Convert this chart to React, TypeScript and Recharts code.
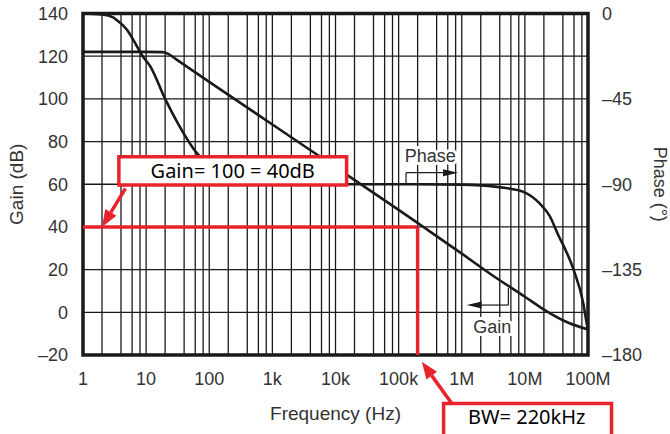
import React from 'react';
import {
  ComposedChart,
  Line,
  XAxis,
  YAxis,
  ReferenceLine,
  ReferenceArea,
  ReferenceDot,
} from 'recharts';

// axis ticks
const freqTicks = [1, 10, 100, 1e3, 1e4, 1e5, 1e6, 1e7, 1e8];
const freqTickLabels = ['1', '10', '100', '1k', '10k', '100k', '1M', '10M', '100M'];
const gainTicks = [-20, 0, 20, 40, 60, 80, 100, 120, 140];
const phaseTicks = [-180, -135, -90, -45, 0];

// minor vertical grid: 1,2,4,6,8 per decade
const gridMantissa = [1, 2, 4, 6, 8];
const gridDecades = [1, 10, 100, 1e3, 1e4, 1e5, 1e6, 1e7];

// open-loop gain (dB)
const gainFreq = [1, 10, 18, 22, 30, 100, 1e3, 1e4, 1e5, 2.2e5, 1e6, 3e6, 1e7, 2e7, 5e7, 1e8];
const gainDb = [122, 122, 121.9, 121.2, 118.5, 108, 88, 68, 48, 41, 27.5, 17.5, 7.3, 1.3, -5, -8];

// phase (deg)
const phaseFreq = [1, 2, 3, 3.4, 5, 6.3, 8.6, 11.7, 20, 32, 64, 100, 200, 500, 1e3, 1e5, 1e6, 2e6, 5e6, 9.5e6, 1.7e7, 2.5e7, 3.2e7, 5.9e7, 8.4e7, 9.5e7, 1e8];
const phaseDeg = [0, -0.5, -2, -3.4, -8.7, -14, -22, -28, -45, -58, -73.7, -80, -86, -89, -90, -90, -90.2, -90.6, -92, -94, -100, -107, -115, -135, -152.6, -163, -167];

const gainData = gainFreq.map((f, i) => ({ f, v: gainDb[i] }));
const phaseData = phaseFreq.map((f, i) => ({ f, v: phaseDeg[i] }));
const gridFreqs = gridDecades.flatMap((d) => gridMantissa.map((m) => m * d));

const RED = '#e8232b';
const INK = '#1a1a1a';
const TXT = '#333';
const FONT = '"Liberation Sans", Arial, sans-serif';
const NOTE_FONT = '"Noto Sans", sans-serif';
const BW_MARK = 2e5;
const W = 670;
const H = 434;
const MARGIN = { top: 13.5, right: 0, bottom: 0, left: 0 };

const fmtFreq = (v: number) => freqTickLabels[Math.round(Math.log10(v))];
const fmtSigned = (v: number) => (v < 0 ? '\u2013' + Math.abs(v) : String(v));

const arrow = (color: string, width: number, len: number, half: number) => (p: any) => {
  const { x1, y1, x2, y2 } = p;
  const a = Math.atan2(y2 - y1, x2 - x1);
  const bx = x2 - len * Math.cos(a);
  const by = y2 - len * Math.sin(a);
  const nx = -Math.sin(a) * half;
  const ny = Math.cos(a) * half;
  return (
    <g>
      <line x1={x1} y1={y1} x2={bx} y2={by} stroke={color} strokeWidth={width} />
      <polygon points={`${x2},${y2} ${bx + nx},${by + ny} ${bx - nx},${by - ny}`} fill={color} />
    </g>
  );
};

const haloText = (value: string) => (p: any) => {
  const vb = p.viewBox;
  return (
    <text
      x={vb.x + vb.width / 2}
      y={vb.y + vb.height / 2}
      textAnchor="middle"
      dominantBaseline="central"
      fontFamily={FONT}
      fontSize={18}
      fill={TXT}
      stroke="#fff"
      strokeWidth={6}
      paintOrder="stroke"
    >
      {value}
    </text>
  );
};

const tickStyle = { fill: TXT, fontSize: 18, fontFamily: FONT };

const sideTitle = (value: string, x: number, angle: number, size: number) => (p: any) => {
  const cy = p.viewBox.y + p.viewBox.height / 2;
  return (
    <text
      x={x}
      y={cy}
      transform={`rotate(${angle} ${x} ${cy})`}
      textAnchor="middle"
      dominantBaseline="central"
      fontFamily={FONT}
      fontSize={size}
      fill={TXT}
    >
      {value}
    </text>
  );
};

// same axes for the base chart and the annotation overlay
const axes = (show: boolean) => [
  <XAxis
    key="x"
    dataKey="f"
    type="number"
    scale="log"
    domain={[1, 1e8]}
    allowDataOverflow
    ticks={freqTicks}
    interval={0}
    tickFormatter={fmtFreq}
    height={79}
    tickSize={0}
    tickMargin={17}
    axisLine={false}
    tick={show ? tickStyle : false}
    label={show ? { value: 'Frequency (Hz)', position: 'insideBottom', offset: 14, fill: TXT, fontSize: 19, fontFamily: FONT } : undefined}
  />,
  <YAxis
    key="yl"
    yAxisId="left"
    domain={[-20, 140]}
    ticks={gainTicks}
    interval={0}
    allowDataOverflow
    tickFormatter={fmtSigned}
    width={83}
    tickSize={0}
    tickMargin={15}
    axisLine={false}
    tick={show ? tickStyle : false}
    label={show ? { content: sideTitle('Gain (dB)', 16, -90, 19) } : undefined}
  />,
  <YAxis
    key="yr"
    yAxisId="right"
    orientation="right"
    domain={[-180, 0]}
    ticks={phaseTicks}
    interval={0}
    allowDataOverflow
    tickFormatter={fmtSigned}
    width={82}
    tickSize={0}
    tickMargin={14}
    axisLine={false}
    tick={show ? tickStyle : false}
    label={show ? { content: sideTitle('Phase (°)', 660, 90, 18) } : undefined}
  />,
];

export default function App() {
  return (
    <div style={{ position: 'absolute', left: 0, top: 0, width: W, height: H, background: '#fff' }}>
      <div style={{ position: 'absolute', left: 0, top: 0 }}>
        <ComposedChart width={W} height={H} margin={MARGIN}>
          {axes(true)}
          {gridFreqs.map((f) => (
            <ReferenceLine key={'v' + f} yAxisId="left" x={f} stroke={INK} strokeWidth={1.3} />
          ))}
          {gainTicks.map((g) => (
            <ReferenceLine key={'h' + g} yAxisId="left" y={g} stroke={INK} strokeWidth={1.3} />
          ))}
          <ReferenceArea yAxisId="left" x1={1} x2={1e8} y1={-20} y2={140} fill="none" stroke={INK} strokeWidth={3.5} />
          <Line yAxisId="left" data={gainData} dataKey="v" type="monotone" stroke={INK} strokeWidth={2.6} dot={false} isAnimationActive={false} />
          <Line yAxisId="right" data={phaseData} dataKey="v" type="monotone" stroke={INK} strokeWidth={2.6} dot={false} isAnimationActive={false} />
        </ComposedChart>
      </div>

      {/* annotation overlay, same axes */}
      <div style={{ position: 'absolute', left: 0, top: 0 }}>
        <ComposedChart width={W} height={H} margin={MARGIN}>
          {axes(false)}
          {/* curve callouts */}
          <ReferenceDot yAxisId="left" x={3.18e5} y={73.2} r={0} fill="none" stroke="none" label={{ content: haloText('Phase') }} />
          <ReferenceLine yAxisId="left" segment={[{ x: 1.31e5, y: 60.6 }, { x: 1.31e5, y: 65.4 }]} stroke={INK} strokeWidth={1.2} />
          <ReferenceLine yAxisId="left" segment={[{ x: 1.31e5, y: 65.4 }, { x: 8.75e5, y: 65.4 }]} shape={arrow(INK, 1.2, 15, 3.5)} />
          <ReferenceDot yAxisId="left" x={3.03e6} y={-6.9} r={0} fill="none" stroke="none" label={{ content: haloText('Gain') }} />
          <ReferenceLine yAxisId="left" segment={[{ x: 5.48e6, y: 11.4 }, { x: 5.48e6, y: 3.4 }]} stroke={INK} strokeWidth={1.2} />
          <ReferenceLine yAxisId="left" segment={[{ x: 5.48e6, y: 3.4 }, { x: 1.2e6, y: 3.4 }]} shape={arrow(INK, 1.2, 15, 3.5)} />

          {/* red annotations */}
          <ReferenceLine yAxisId="left" segment={[{ x: 1, y: 40 }, { x: BW_MARK, y: 40 }]} stroke={RED} strokeWidth={3.5} />
          <ReferenceLine yAxisId="left" segment={[{ x: BW_MARK, y: 40 }, { x: BW_MARK, y: -20 }]} stroke={RED} strokeWidth={3.5} />
          <ReferenceArea
            yAxisId="left"
            x1={3.7}
            x2={15000}
            y1={59.6}
            y2={72.9}
            fill="#fff"
            fillOpacity={1}
            stroke={RED}
            strokeWidth={3.5}
            label={{ value: 'Gain= 100 = 40dB', position: 'center', fill: '#000', fontSize: 20, fontFamily: NOTE_FONT }}
          />
          <ReferenceLine yAxisId="left" segment={[{ x: 4.7, y: 58 }, { x: 2, y: 40 }]} ifOverflow="visible" shape={arrow(RED, 3.5, 17, 6.5)} />
          <ReferenceArea
            yAxisId="left"
            x1={5.16e5}
            x2={2.36e8}
            y1={-60}
            y2={-42.75}
            ifOverflow="visible"
            fill="#fff"
            fillOpacity={1}
            stroke={RED}
            strokeWidth={3.5}
          />
          <ReferenceDot yAxisId="left" x={1.07e7} y={-48.9} r={0} ifOverflow="visible" fill="none" stroke="none" label={{ value: 'BW= 220kHz', position: 'center', fill: '#000', fontSize: 20, fontFamily: NOTE_FONT }} />
          <ReferenceLine yAxisId="left" segment={[{ x: 6.95e5, y: -42.7 }, { x: 2.33e5, y: -23.2 }]} ifOverflow="visible" shape={arrow(RED, 3.5, 17, 6.5)} />
        </ComposedChart>
      </div>
    </div>
  );
}
